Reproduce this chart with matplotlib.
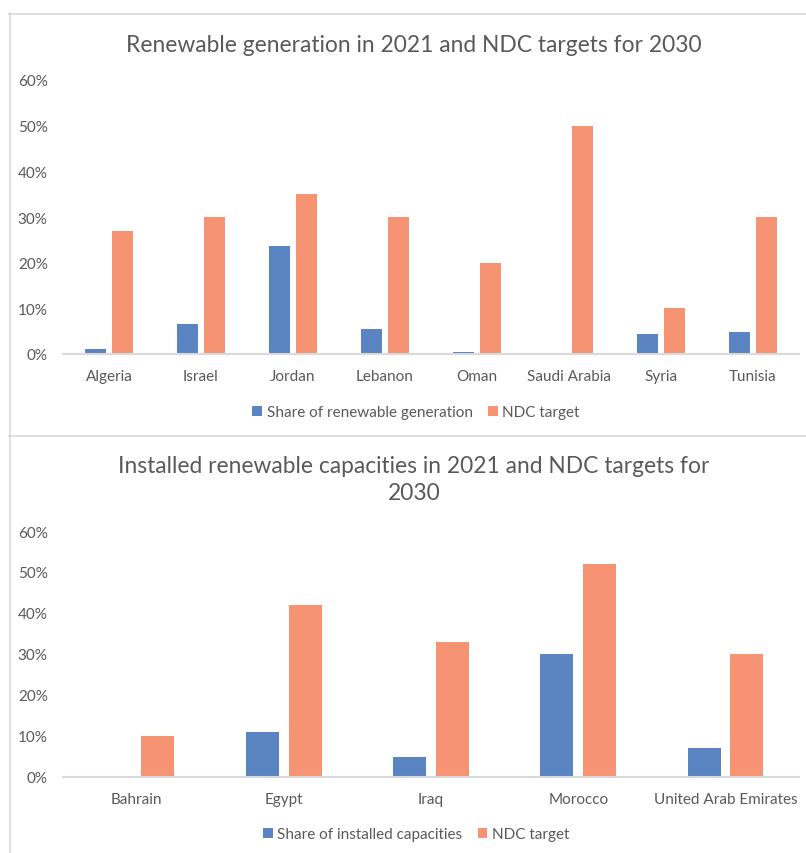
import matplotlib
matplotlib.use("Agg")
import matplotlib.pyplot as plt
from matplotlib.lines import Line2D
from matplotlib.ticker import PercentFormatter
import numpy as np

plt.rcParams['font.family'] = ['Lato', 'DejaVu Sans']

# Top chart data
gen_countries = ["Algeria", "Israel", "Jordan", "Lebanon", "Oman", "Saudi Arabia", "Syria", "Tunisia"]
gen_share = [0.01, 0.066, 0.236, 0.055, 0.005, 0.0, 0.044, 0.048]
gen_target = [0.27, 0.30, 0.35, 0.30, 0.20, 0.50, 0.10, 0.30]

# Bottom chart data
cap_countries = ["Bahrain", "Egypt", "Iraq", "Morocco", "United Arab Emirates"]
cap_share = [0.0, 0.11, 0.05, 0.30, 0.07]
cap_target = [0.10, 0.42, 0.33, 0.52, 0.30]

yticks = [0, 0.1, 0.2, 0.3, 0.4, 0.5, 0.6]

BLUE = "#5B84C3"
ORANGE = "#F59372"
TEXT = "#595959"
AXIS = "#D9D9D9"

W, H = 806, 854
fig = plt.figure(figsize=(W / 100, H / 100), dpi=100)


def px_axes(x0, y0, x1, y1):
    return fig.add_axes([x0 / W, 1 - y1 / H, (x1 - x0) / W, (y1 - y0) / H])


def draw_panel(ax, cats, share, target, width, offset, share_label):
    x = np.arange(len(cats))
    ax.bar(x - offset, share, width, color=BLUE, label=share_label, zorder=2)
    ax.bar(x + offset, target, width, color=ORANGE, label="NDC target", zorder=2)
    ax.set_xlim(-0.5, len(cats) - 0.5)
    ax.set_ylim(0, 0.6)
    ax.set_yticks(yticks)
    ax.yaxis.set_major_formatter(PercentFormatter(1.0, decimals=0))
    ax.set_xticks(x)
    ax.set_xticklabels(cats)
    for s in ["top", "right", "left"]:
        ax.spines[s].set_visible(False)
    ax.spines["bottom"].set_color(AXIS)
    ax.spines["bottom"].set_linewidth(1.5)
    ax.tick_params(axis="both", length=0, colors=TEXT, labelsize=11)
    ax.tick_params(axis="y", pad=11)
    ax.tick_params(axis="x", pad=11)
    ax.set_facecolor("none")


def add_legend(ax, y_px):
    ax.legend(loc="center", bbox_to_anchor=(416 / W, 1 - y_px / H),
              bbox_transform=fig.transFigure, ncol=2, frameon=False,
              fontsize=11, labelcolor=TEXT, handlelength=0.65, handleheight=0.65,
              handletextpad=0.3, columnspacing=1.0)


ax1 = px_axes(63, 81, 799, 355)
draw_panel(ax1, gen_countries, gen_share, gen_target, 0.228, 0.143,
           "Share of renewable generation")
fig.text(414 / W, 1 - 45.5 / H, "Renewable generation in 2021 and NDC targets for 2030",
         ha="center", va="center", fontsize=16.4, color=TEXT)
add_legend(ax1, 413)

ax2 = px_axes(63, 532, 799, 778)
draw_panel(ax2, cap_countries, cap_share, cap_target, 0.224, 0.145,
           "Share of installed capacities")
fig.text(414 / W, 1 - 480 / H, "Installed renewable capacities in 2021 and NDC targets for\n2030",
         ha="center", va="center", fontsize=16.4, color=TEXT, linespacing=1.35)
add_legend(ax2, 835)

# Chart frames
BORDER = "#D9D9D9"
for (xs, ys) in [
    ([9, W], [14.5, 14.5]),
    ([9.5, 9.5], [14, 436]),
    ([9, W], [436.5, 436.5]),
    ([9.5, 9.5], [437, H]),
]:
    fig.add_artist(Line2D([v / W for v in xs], [1 - v / H for v in ys],
                          color=BORDER, linewidth=1.2))

fig.savefig("out.png", dpi=100)
